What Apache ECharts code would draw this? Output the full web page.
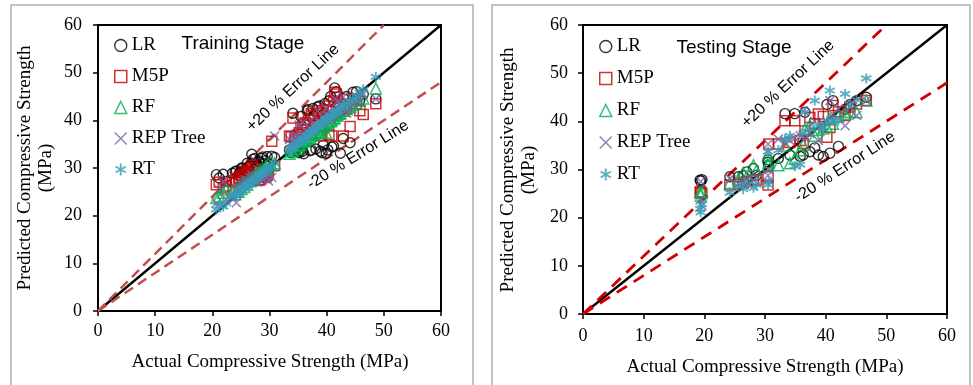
<!DOCTYPE html>
<html><head><meta charset="utf-8">
<script src="https://cdn.jsdelivr.net/npm/echarts@6/dist/echarts.min.js"></script>
<style>html,body{margin:0;padding:0;background:#fff}#c{width:973px;height:385px}</style>
</head><body><div id="c"></div>
<script>
const modelNames = ['LR', 'M5P', 'RF', 'REP Tree', 'RT'];
const axisMin = 0, axisMax = 60, axisStep = 10;

const actualTrain = [20.7,21.2,21.9,22.4,23.5,24.2,24.8,25.3,25.8,26.3,26.9,27.4,27.8,28.3,28.8,29.3,29.8,30.4,30.9,33.5,34.1,34.6,35.2,35.8,36.3,36.8,37.3,37.8,38.4,38.9,39.4,39.9,40.4,40.9,41.4,41.9,42.4,42.9,43.5,44.1,44.6,45.2,45.8,46.4,48.6,
  24.0,24.6,25.1,25.6,26.1,26.6,27.1,27.6,28.1,28.6,29.1,29.6,33.8,34.4,35.0,35.5,36.0,36.6,37.1,37.6,38.1,38.7,39.2,39.7,40.2,40.7,41.2,41.7,42.2,43.0];
const lrTrain = [28.6,27.9,28.7,27.2,28.9,29.4,29.0,29.9,29.3,30.2,32.9,32.0,30.4,31.2,32.3,31.5,30.8,32.5,32.2,33.8,41.5,33.5,33.2,33.5,39.0,42.3,33.8,41.0,42.8,33.5,34.8,33.1,44.1,34.4,46.8,41.5,33.1,36.2,45.0,35.3,45.9,46.0,44.2,45.5,44.5,
  29.2,28.5,30.0,29.6,31.0,30.5,31.8,30.0,31.5,32.0,30.9,32.4,33.2,34.0,33.4,40.8,33.0,42.0,33.6,42.5,34.0,43.0,33.2,43.5,33.8,45.0,34.6,46.0,43.0,44.5];
const m5pTrain = [26.5,27.0,25.8,26.2,27.3,27.5,28.0,28.4,28.9,29.6,30.6,30.0,28.2,27.5,28.6,28.0,29.0,35.6,30.5,36.7,40.5,36.5,37.4,38.0,39.5,40.0,41.4,38.5,42.0,36.7,41.5,42.2,37.0,36.7,45.9,44.9,43.5,36.7,42.5,38.7,44.5,43.5,42.0,41.2,43.5,
  27.0,27.8,28.5,29.2,28.5,29.0,30.0,28.3,27.5,28.2,29.0,28.5,36.5,36.0,37.0,38.5,39.2,38.0,40.0,41.0,39.0,41.5,42.0,40.5,43.0,41.0,44.0,45.5,42.5,43.0];
const rfTrain = [23.7,24.0,24.8,25.5,25.3,25.1,26.2,26.8,27.0,27.6,28.1,28.5,29.0,29.3,29.8,30.2,31.0,30.5,31.0,33.0,33.5,34.0,34.8,35.5,36.0,36.4,36.9,37.2,37.6,37.4,38.6,37.4,39.6,40.0,40.5,41.0,41.5,42.0,42.3,42.8,43.2,43.6,44.2,44.6,46.7,
  24.5,25.0,25.6,26.0,26.5,27.2,27.5,28.2,28.6,29.0,29.4,29.6,33.5,34.0,34.6,35.0,35.6,36.0,36.4,37.0,37.3,38.0,38.4,38.8,39.4,39.8,40.4,41.0,41.4,42.0];
const repTrain = [22.6,25.5,27.2,23.5,24.0,22.7,26.0,26.5,27.5,27.0,28.5,27.5,27.0,28.0,27.5,28.5,27.3,28.0,36.7,36.0,36.7,37.0,39.0,39.5,36.5,37.5,40.0,38.5,42.0,39.5,40.5,42.5,41.0,40.0,44.5,44.0,42.0,44.9,41.5,42.5,43.5,45.0,44.0,45.5,44.5,
  25.0,25.6,26.5,27.0,27.4,28.0,27.0,27.6,28.2,28.0,28.7,28.0,35.0,36.0,36.5,36.2,37.0,37.5,38.2,38.0,38.8,39.5,39.4,40.2,40.8,40.5,41.2,41.7,42.5,42.8];
const rtTrain = [21.3,22.0,21.9,22.6,24.0,24.5,25.0,25.7,26.0,26.6,27.2,27.6,28.0,28.6,29.0,29.5,29.9,30.3,31.0,33.5,34.3,34.8,35.4,36.0,36.5,37.0,37.6,38.0,38.7,39.1,39.5,40.2,40.5,41.1,41.6,42.1,42.5,43.2,43.6,44.0,44.6,45.0,45.8,46.5,49.1,
  24.3,24.8,25.3,25.8,26.3,26.8,27.3,27.8,28.3,28.8,29.3,29.8,33.9,34.6,35.2,35.7,36.2,36.9,37.4,38.0,38.4,39.0,39.6,40.0,40.5,41.0,41.5,42.0,42.6,43.3];

const actualTest = [19.3,19.4,19.6,24.2,25.6,26.4,27.0,28.1,28.6,30.5,30.5,30.6,32.2,33.3,34.1,34.9,35.8,36.3,36.6,37.4,38.2,38.8,39.6,40.2,40.7,41.2,42.1,43.2,44.0,45.1,46.7];
const lrTest = [27.8,27.6,27.9,28.5,28.5,28.7,29.5,30.2,28.8,31.5,32.0,30.8,32.3,41.6,33.0,41.6,32.7,33.0,41.9,33.7,34.5,33.0,32.7,43.5,33.4,44.3,34.8,42.5,43.5,44.3,45.0];
const m5pTest = [25.2,25.4,25.0,26.8,27.0,27.2,27.5,27.8,27.8,28.5,26.8,35.3,35.3,40.1,35.6,40.1,36.0,35.4,38.0,40.8,39.5,41.5,41.0,36.7,38.7,43.3,42.0,41.2,43.0,43.6,44.3];
const rfTest = [25.2,24.6,25.5,27.2,28.0,29.3,28.5,30.9,29.8,30.9,33.0,31.5,30.9,35.0,31.3,32.3,34.0,35.1,38.5,39.2,37.0,38.2,38.5,38.9,40.5,39.5,41.0,41.6,42.0,41.9,44.3];
const repTest = [23.7,27.5,22.5,28.1,27.0,27.5,28.1,27.8,28.5,28.8,35.3,30.0,36.3,35.5,36.0,36.5,37.0,42.2,36.5,37.5,40.0,36.0,38.5,40.0,44.3,41.5,42.5,39.1,43.0,41.2,44.3];
const rtTest = [21.8,21.1,22.8,25.2,26.5,25.9,26.8,26.2,26.8,26.8,33.7,27.5,34.0,36.3,37.0,30.7,31.0,37.5,41.9,38.5,44.3,39.0,38.7,40.0,46.4,40.1,40.1,45.7,43.6,44.5,48.9];

const lineOfEquality = [[0, 0], [60, 60]];
const plus20Line = [[0, 0], [50, 60]];
const minus20Line = [[0, 0], [60, 48]];

const SERIF = '"Liberation Serif", "Times New Roman", serif';
const SANS = '"Liberation Sans", Arial, sans-serif';
const SYM_X = 'path://M0,0L10,10M10,0L0,10';
const SYM_AST = 'path://M5,0L5,10M0.7,2.5L9.3,7.5M0.7,7.5L9.3,2.5';
const styles = {
  'LR': {symbol: 'circle', size: 10, color: '#000000', bw: 1.4},
  'M5P': {symbol: 'rect', size: 10, color: '#C00000', bw: 1.5},
  'RF': {symbol: 'triangle', size: 11, color: '#00B050', bw: 1.5},
  'REP Tree': {symbol: SYM_X, size: 9, color: '#7A5EA0', bw: 1.5},
  'RT': {symbol: SYM_AST, size: 10, color: '#3A9BB8', bw: 1.9}
};

function pairs(xs, ys) { return xs.map((x, i) => [x, ys[i]]); }

function scatter(name, gi, xs, ys) {
  const s = styles[name];
  return {
    type: 'scatter', name, xAxisIndex: gi, yAxisIndex: gi,
    data: pairs(xs, ys), symbol: s.symbol, symbolSize: s.size,
    itemStyle: {color: 'rgba(0,0,0,0)', borderColor: s.color, borderWidth: s.bw},
    emphasis: {disabled: true}, silent: true, z: 3, animation: false
  };
}
function refLine(gi, data, color, dashed, width) {
  return {
    type: 'line', xAxisIndex: gi, yAxisIndex: gi, data, symbol: 'none',
    lineStyle: {color, width, type: dashed ? dashed : 'solid'},
    silent: true, z: 2, animation: false, legendHoverLink: false
  };
}
function axis(gi, margin) {
  return {gridIndex: gi, type: 'value', min: axisMin, max: axisMax, interval: axisStep,
    axisLine: {show: true, onZero: false, lineStyle: {color: '#000', width: 2}},
    axisTick: {show: true, length: 5, lineStyle: {color: '#000', width: 1.5}},
    axisLabel: {color: '#000', fontFamily: SERIF, fontSize: 18, margin},
    splitLine: {show: false}};
}
function legendFor(left, top, gap) {
  return {
    orient: 'vertical', left, top, itemWidth: 12, itemHeight: 12, itemGap: gap,
    selectedMode: false,
    textStyle: {fontFamily: SERIF, fontSize: 19, color: '#000', lineHeight: 19},
    data: modelNames.map(n => ({name: n, icon: styles[n].symbol,
      itemStyle: {color: 'rgba(0,0,0,0)', borderColor: styles[n].color, borderWidth: styles[n].bw}}))
  };
}
function txt(x, y, text, font, rotDeg, lh) {
  return {type: 'text', x, y, rotation: (rotDeg || 0) * Math.PI / 180, silent: true,
    style: {text, font, fill: '#000', textAlign: 'center', textVerticalAlign: 'middle', lineHeight: lh || 20}};
}

const trainSets = [lrTrain, m5pTrain, rfTrain, repTrain, rtTrain];
const testSets = [lrTest, m5pTest, rfTest, repTest, rtTest];

const series = [
  refLine(0, lineOfEquality, '#000', null, 2.4),
  refLine(0, plus20Line, '#C0504D', [10, 6], 2.5),
  refLine(0, minus20Line, '#C0504D', [10, 6], 2.5),
  refLine(1, lineOfEquality, '#000', null, 2.4),
  refLine(1, plus20Line, '#D00000', [12, 8], 2.8),
  refLine(1, minus20Line, '#D00000', [12, 8], 2.8)
];
modelNames.forEach((n, i) => series.push(scatter(n, 0, actualTrain, trainSets[i])));
modelNames.forEach((n, i) => series.push(scatter(n, 1, actualTest, testSets[i])));

const chart = echarts.init(document.getElementById('c'), null, {renderer: 'canvas'});
chart.setOption({
  animation: false,
  backgroundColor: '#fff',
  grid: [
    {left: 98, right: 532, top: 25, bottom: 74, show: true, borderColor: '#000', borderWidth: 2},
    {left: 583, right: 26, top: 25, bottom: 71, show: true, borderColor: '#000', borderWidth: 2}
  ],
  xAxis: [axis(0, 11), axis(1, 13)],
  yAxis: [axis(0, 16), axis(1, 15)],
  legend: [legendFor(109, 31, 12), legendFor(594, 32, 13)],
  series,
  graphic: [
    {type: 'rect', shape: {x: 11, y: 5, width: 462, height: 400}, style: {fill: 'none', stroke: '#B0B0B0', lineWidth: 1.5}, silent: true, z: -1},
    {type: 'rect', shape: {x: 492, y: 5, width: 478, height: 400}, style: {fill: 'none', stroke: '#B0B0B0', lineWidth: 1.5}, silent: true, z: -1},
    txt(243, 44, 'Training Stage', '19px ' + SANS),
    txt(734, 48, 'Testing Stage', '19px ' + SANS),
    txt(293, 88, '+20 % Error Line', '16px ' + SANS, 43),
    txt(358, 155, '-20 % Error Line', '16px ' + SANS, 32),
    txt(788, 84, '+20 % Error Line', '16px ' + SANS, 43),
    txt(845, 167, '-20 % Error Line', '16px ' + SANS, 33),
    txt(36, 168, 'Predicted Compressive Strength\n(MPa)', '19px ' + SERIF, 90, 21),
    txt(519, 170, 'Predicted Compressive Strength\n(MPa)', '19px ' + SERIF, 90, 21),
    txt(270, 362, 'Actual Compressive Strength (MPa)', '19px ' + SERIF),
    txt(765, 367, 'Actual Compressive Strength (MPa)', '19px ' + SERIF)
  ]
});
</script>
</body></html>
